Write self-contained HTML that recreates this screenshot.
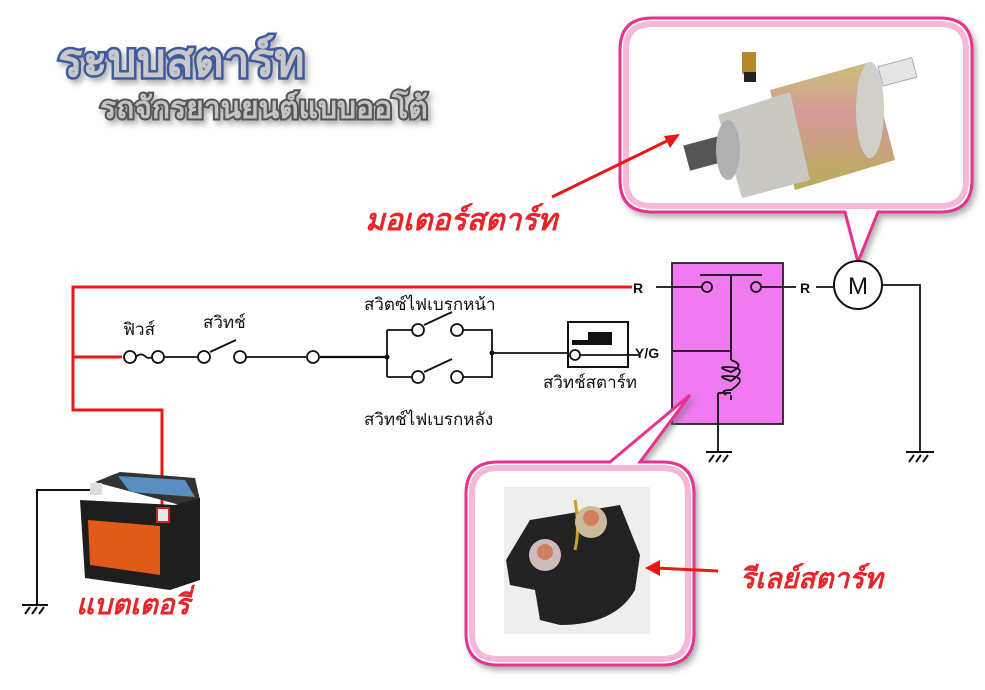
<!DOCTYPE html>
<html><head><meta charset="utf-8"><style>
html,body{margin:0;padding:0;background:#fff;width:985px;height:690px;overflow:hidden}
svg{display:block}
.th{font-family:"Liberation Sans","Noto Sans CJK SC","WenQuanYi Zen Hei",sans-serif}
</style></head><body>
<svg width="985" height="690" viewBox="0 0 985 690" xmlns="http://www.w3.org/2000/svg">
<defs>
<filter id="sh" x="-10%" y="-10%" width="130%" height="130%"><feDropShadow dx="3" dy="4" stdDeviation="3" flood-color="#666" flood-opacity="0.5"/></filter>
<linearGradient id="mot" x1="0" y1="0" x2="0" y2="1"><stop offset="0" stop-color="#c9c07a"/><stop offset="0.4" stop-color="#d59a98"/><stop offset="1" stop-color="#b8ae58"/></linearGradient>
</defs>

<!-- titles -->
<text x="58" y="76" class="th" font-size="46" font-weight="900" fill="#c8c8c8" stroke="#3f5aa0" stroke-width="5" paint-order="stroke" filter="url(#sh)">ระบบสตาร์ท</text>
<text x="100" y="118" class="th" font-size="30" font-weight="900" fill="#c4c4c4" stroke="#555" stroke-width="4" paint-order="stroke" filter="url(#sh)">รถจักรยานยนต์แบบออโต้</text>

<!-- motor bubble -->
<g filter="url(#sh)">
<path d="M652,18 H940 Q972,18 972,50 V180 Q972,212 940,212 H878 L858,262 L845,212 H652 Q620,212 620,180 V50 Q620,18 652,18 Z" fill="#fff" stroke="#e8308f" stroke-width="3"/>
</g>
<path d="M652,24 H940 Q966,24 966,50 V180 Q966,206 940,206 H652 Q626,206 626,180 V50 Q626,24 652,24 Z" fill="none" stroke="#f7b8d8" stroke-width="6"/>
<!-- motor picture -->
<rect x="880" y="62" width="35" height="20" fill="#e4e4e4" stroke="#aaa" transform="rotate(-15 897 72)"/>
<rect x="686" y="140" width="40" height="26" fill="#555" transform="rotate(-15 706 153)"/>
<path d="M770,90 L870,62 L895,160 L795,190 Z" fill="url(#mot)"/>
<ellipse cx="870" cy="110" rx="14" ry="48" fill="#d0cfca"/>
<path d="M718,115 L790,92 L810,180 L742,198 Z" fill="#c9c8c3"/>
<ellipse cx="728" cy="150" rx="12" ry="30" fill="#b0b0b0"/>
<rect x="742" y="52" width="14" height="22" fill="#b58a2a"/>
<rect x="744" y="72" width="12" height="10" fill="#222"/>
<line x1="552" y1="197" x2="673" y2="138" stroke="#e81818" stroke-width="3"/>
<polygon points="680,134 664,136 670,148" fill="#e81818"/>
<text x="365" y="230" class="th" font-size="30" font-style="italic" font-weight="bold" fill="#e8262a">มอเตอร์สตาร์ท</text>

<!-- red wires -->
<path d="M632,287 H73 V410 H162 V515" fill="none" stroke="#e81818" stroke-width="3"/>
<line x1="73" y1="357" x2="122" y2="357" stroke="#e81818" stroke-width="3"/>

<!-- black circuit -->
<g stroke="#111" stroke-width="1.8" fill="#fff">
<line x1="164" y1="357" x2="198" y2="357"/>
<line x1="246" y1="357" x2="306" y2="357"/>
<line x1="320" y1="357" x2="387" y2="357" stroke-width="2.2"/>
<line x1="492" y1="353" x2="568" y2="353"/>
<polyline points="387,330 387,377" fill="none"/>
<polyline points="387,330 412,330" fill="none"/><polyline points="462,330 492,330 492,377 462,377" fill="none"/>
<polyline points="387,377 412,377" fill="none"/>
<line x1="210" y1="352" x2="236" y2="340"/>
<line x1="424" y1="325" x2="452" y2="312"/>
<line x1="424" y1="372" x2="452" y2="359"/>
<circle cx="130" cy="357" r="6"/><circle cx="158" cy="357" r="6"/>
<circle cx="204" cy="357" r="6"/><circle cx="240" cy="357" r="6"/>
<circle cx="313" cy="357" r="6"/>
<circle cx="418" cy="330" r="6"/><circle cx="457" cy="330" r="6"/>
<circle cx="418" cy="377" r="6"/><circle cx="457" cy="377" r="6"/>
</g>
<circle cx="387" cy="357" r="2.5" fill="#111"/><circle cx="492" cy="353" r="2.5" fill="#111"/>
<path d="M136,357 q5,-5 10,0 q3,2 6,0" fill="none" stroke="#111" stroke-width="1.8"/>

<!-- starter switch -->
<rect x="568" y="322" width="60" height="45" fill="#fff" stroke="#111" stroke-width="2"/>
<path d="M572,340 H588 V332 H612 V345 H572 Z" fill="#111"/>
<circle cx="575" cy="355" r="5" fill="#fff" stroke="#111" stroke-width="1.8"/>
<line x1="580" y1="355" x2="640" y2="355" stroke="#111" stroke-width="1.8"/>

<text x="123" y="335" class="th" font-size="17" fill="#111">ฟิวส์</text>
<text x="203" y="328" class="th" font-size="17" fill="#111">สวิทช์</text>
<text x="364" y="310" class="th" font-size="17" fill="#111">สวิตซ์ไฟเบรกหน้า</text>
<text x="364" y="425" class="th" font-size="17" fill="#111">สวิทช์ไฟเบรกหลัง</text>
<text x="543" y="388" class="th" font-size="17" fill="#111">สวิทช์สตาร์ท</text>

<!-- relay -->
<rect x="672" y="263" width="111" height="161" fill="#f07af0" stroke="#222" stroke-width="1.8"/>
<g stroke="#111" stroke-width="1.8" fill="none">
<line x1="700" y1="275" x2="762" y2="275"/>
<line x1="731" y1="275" x2="731" y2="360"/>
<line x1="731" y1="395" x2="731" y2="400"/>
<path d="M731,360 q15,5 0,12 q-15,-5 -5,-5 q25,0 5,14 q-15,-5 -5,-5 q25,0 5,14 q-12,0 -5,5"/>
<line x1="718" y1="393" x2="718" y2="452"/>
<line x1="718" y1="393" x2="731" y2="393"/>
<line x1="673" y1="351" x2="731" y2="351"/>
<line x1="656" y1="287" x2="702" y2="287"/>
<line x1="761" y1="287" x2="796" y2="287"/>
<line x1="816" y1="287" x2="833" y2="287"/>
<polyline points="883,285 920,285 920,452"/>
</g>
<circle cx="707" cy="287" r="5" fill="#f07af0" stroke="#111" stroke-width="1.8"/>
<circle cx="756" cy="287" r="5" fill="#f07af0" stroke="#111" stroke-width="1.8"/>
<text x="633" y="293" class="th" font-size="14" font-weight="bold" fill="#111">R</text>
<text x="800" y="293" class="th" font-size="14" font-weight="bold" fill="#111">R</text>
<text x="635" y="358" class="th" font-size="14" font-weight="bold" fill="#111">Y/G</text>
<circle cx="858" cy="285" r="24" fill="#fff" stroke="#111" stroke-width="2"/>
<text x="858" y="294" text-anchor="middle" class="th" font-size="24" fill="#111">M</text>
<g stroke="#111" stroke-width="2"><line x1="706" y1="452" x2="732" y2="452"/><line x1="709" y1="462" x2="714" y2="455"/><line x1="716" y1="462" x2="721" y2="455"/><line x1="723" y1="462" x2="728" y2="455"/>
<line x1="906" y1="452" x2="934" y2="452"/><line x1="909" y1="462" x2="914" y2="455"/><line x1="916" y1="462" x2="921" y2="455"/><line x1="923" y1="462" x2="928" y2="455"/>
<polyline points="95,490 37,490 37,605" fill="none"/><line x1="22" y1="605" x2="48" y2="605"/><line x1="25" y1="614" x2="30" y2="607"/><line x1="32" y1="614" x2="37" y2="607"/><line x1="39" y1="614" x2="44" y2="607"/></g>

<!-- battery -->
<path d="M95,482 L120,472 L195,478 L200,500 L180,505 Z" fill="#333"/>
<path d="M118,476 L185,480 L195,497 L130,492 Z" fill="#5b8ec0"/>
<path d="M80,500 L175,505 L200,498 L200,580 L170,590 L85,578 Z" fill="#1e1e1e"/>
<path d="M88,520 L160,526 L160,575 L90,565 Z" fill="#e05a1a"/>
<rect x="90" y="483" width="12" height="12" fill="#ddd"/>
<rect x="157" y="508" width="12" height="14" fill="#e8e8e8" stroke="#c22" stroke-width="2"/>
<text x="76" y="614" class="th" font-size="28" font-style="italic" font-weight="bold" fill="#e8262a">แบตเตอรี่</text>

<!-- relay bubble -->
<g filter="url(#sh)">
<path d="M498,462 H610 L690,395 L640,462 H662 Q694,462 694,494 V633 Q694,665 662,665 H498 Q466,665 466,633 V494 Q466,462 498,462 Z" fill="#fff" stroke="#e8308f" stroke-width="3"/>
</g>
<path d="M498,468 H662 Q688,468 688,494 V633 Q688,659 662,659 H498 Q472,659 472,633 V494 Q472,468 498,468 Z" fill="none" stroke="#f7b8d8" stroke-width="6"/>
<rect x="504" y="487" width="146" height="147" fill="#eee"/>
<path d="M506,560 L530,520 L620,505 L640,555 L635,590 Q615,625 560,625 L540,620 L535,590 L510,585 Z" fill="#222"/>
<path d="M575,500 q5,30 0,50" stroke="#c9a020" stroke-width="3" fill="none"/>
<circle cx="545" cy="555" r="16" fill="#cbb"/><circle cx="545" cy="552" r="8" fill="#d08060"/>
<circle cx="591" cy="522" r="16" fill="#cb9"/><circle cx="591" cy="518" r="8" fill="#d08060"/>
<line x1="718" y1="571" x2="655" y2="568" stroke="#e81818" stroke-width="3"/>
<polygon points="645,568 660,560 660,576" fill="#e81818"/>
<text x="740" y="588" class="th" font-size="28" font-style="italic" font-weight="bold" fill="#e8262a">รีเลย์สตาร์ท</text>
</svg>
</body></html>
